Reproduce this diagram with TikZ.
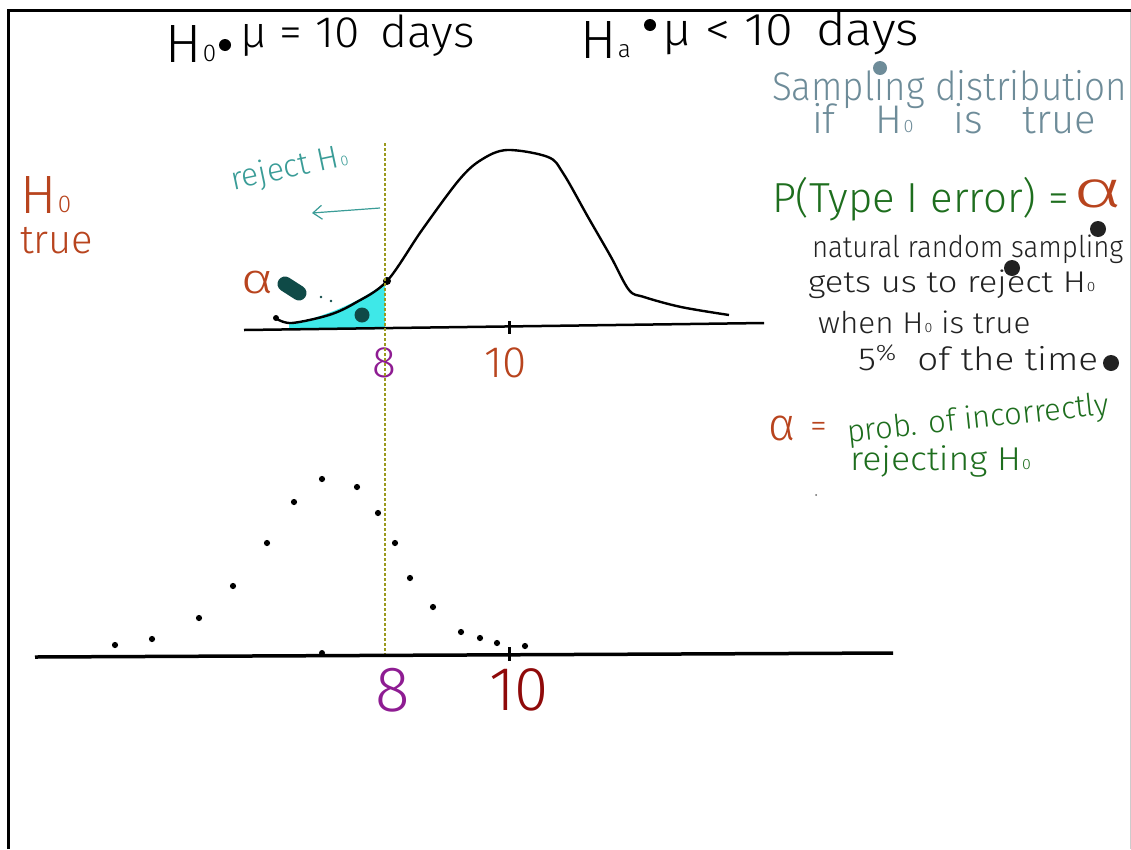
\documentclass[tikz,border=0pt]{standalone}
\usepackage{fontspec}
\usepackage{graphicx}
\setmainfont{Fira Sans Light}
\usetikzlibrary{arrows.meta}
\newcommand{\fsz}[1]{\fontsize{#1}{#1}\selectfont}
\newcommand{\hsub}[1]{\kern0.03em\raisebox{0.01em}{\scalebox{0.45}{#1}}}
\definecolor{sgray}{HTML}{6E8C99}
\definecolor{hgreen}{HTML}{1E6E1E}
\definecolor{rbrown}{HTML}{B8441E}
\definecolor{tealtxt}{HTML}{3A9C97}
\definecolor{cyanfill}{HTML}{3EE8E8}
\definecolor{darkteal}{HTML}{0F4A47}
\definecolor{purp}{HTML}{8E1C92}
\definecolor{dred}{HTML}{8F0A0A}
\definecolor{olive8}{HTML}{9A9A1E}
\definecolor{ink}{HTML}{222222}
\tikzset{
  hw/.style={inner sep=0pt, outer sep=0pt, anchor=base west},
  lbl/.style={inner sep=0pt, outer sep=0pt},
}
\begin{document}
\begin{tikzpicture}[x=1pt, y=-1pt]
\useasboundingbox (0,0) rectangle (1131,849);
% frame
\draw[line width=3] (8,849) -- (8,10) -- (1131,10);
\draw[black!20, line width=1] (1130,12) -- (1130,849);

% top hypotheses
\node[hw, font=\fsz{54}] (h0) at (165,62) {H\hsub{0}};
\fill (225,45) circle (6);
\node[hw, font=\fsz{44}, xscale=1.05] (h0t) at (240,47) {μ = 10 \,days};
\node[hw, font=\fsz{54}] (ha) at (580,58) {H\hsub{a}};
\fill (650,25) circle (6);
\node[hw, font=\fsz{46}, xscale=1.1] (hat) at (662,45) {μ < 10 \,days};

% right column
\node[hw, font=\fsz{40}, text=sgray, xscale=0.92] (s1) at (772,100) {Sampling distribution};
\node[hw, font=\fsz{40}, text=sgray] (s2) at (812,133) {if\quad H\hsub{0}\quad is\quad true};
\fill[sgray] (880,68) circle (7);

\node[hw, font=\fsz{42}, text=hgreen] (p1) at (772,212) {P(Type I error) =};
\node[hw, font=\fsz{52}, text=rbrown, xscale=1.6] (p1a) at (1073,207) {α};

\node[hw, font=\fsz{30}, text=ink, xscale=0.92] (n1) at (812,257) {natural random sampling};
\node[hw, font=\fsz{30}, text=ink, xscale=1.15] (n2) at (808,292) {gets us to reject H\hsub{0}};
\node[hw, font=\fsz{30}, text=ink, xscale=1.05] (n3) at (818,333) {when H\hsub{0} is true};
\node[hw, font=\fsz{32}, text=ink, xscale=1.15] (n4) at (858,370) {5\textsuperscript{\%}\ \ of the time};
\fill[ink] (1098,229) circle (8);
\fill[ink] (1012,268) circle (8);
\fill[ink] (1111,363) circle (8);

\node[hw, font=\fsz{46}, text=rbrown] (a1) at (768,440) {α};
\node[hw, font=\fsz{34}, text=rbrown] (a1e) at (810,437) {=};
\node[hw, font=\fsz{31}, text=hgreen, rotate=6] (a2) at (848,442) {prob. of incorrectly};
\node[hw, font=\fsz{33}, text=hgreen, xscale=1.08] (a3) at (850,470) {rejecting H\hsub{0}};
\fill[black!60] (816,495) circle (1);

% left label
\node[hw, font=\fsz{54}, text=rbrown] (ht1) at (20,213) {H\hsub{0}};
\node[hw, font=\fsz{40}, text=rbrown] (ht2) at (20,253) {true};

% upper graph
\fill[cyanfill] (289,330) -- (289,324) .. controls (320,318) and (355,305) .. (385,283) -- (385,329) -- cycle;
\draw[line width=2.5] (244,330) -- (764,323);
\draw[line width=3] (509,321) -- (509,334);
\draw[line width=2.4, line join=round] plot[smooth, tension=0.55] coordinates {(277,319) (292,323) (329,315) (355,303) (387,281) (422,230) (459,180) (481,160) (507,150) (548,157) (563,173) (588,217) (611,257) (629,290) (644,297) (681,307) (729,315)};
\fill (387,281) circle (4);
\fill (276,318) circle (3);

\node[lbl, font=\fsz{42}, text=rbrown, xscale=1.3] (alpha) at (258,283) {α};
\draw[darkteal, line width=15, line cap=round] (285,284) -- (299,293);
\fill[darkteal] (321,297) circle (1.3);
\fill[darkteal] (331,301) circle (1.3);
\fill[darkteal] (362,315) circle (7.5);

\node[lbl, font=\fsz{32}, text=tealtxt, rotate=12, anchor=base west] (rej) at (233,190) {reject H\hsub{0}};
\coordinate (arrS) at (380,208);
\coordinate (arrE) at (312,213);
\draw[tealtxt, line width=1.2, -{Straight Barb[length=9pt, width=14pt]}] (arrS) -- (arrE);

\node[lbl, font=\fsz{44}, text=purp] (u8) at (384,363) {8};
\node[lbl, font=\fsz{44}, text=rbrown] (u10) at (506,363) {10};

% dotted vertical line
\coordinate (vt) at (385,143);
\coordinate (vb) at (385,657);
\draw[olive8, line width=2.5, dash pattern=on 2.5pt off 2.5pt] (vt) -- (vb);

% lower graph
\draw[line width=3.5] (35,657) -- (893,653);
\draw[line width=3] (509,647) -- (509,661);
\fill (322,653) circle (3);
\foreach \p in {(115,645),(152,639),(199,618),(233,586),(267,543),(294,502),(322,479),(357,487),(378,513),(395,543),(410,578),(433,607),(461,632),(480,638),(497,643),(525,646)}
  \fill \p circle (3.1);

\node[lbl, font=\fsz{64}, text=purp] (l8) at (393,690) {8};
\node[lbl, font=\fsz{62}, text=dred] (l10) at (519,690) {10};
\end{tikzpicture}
\end{document}
